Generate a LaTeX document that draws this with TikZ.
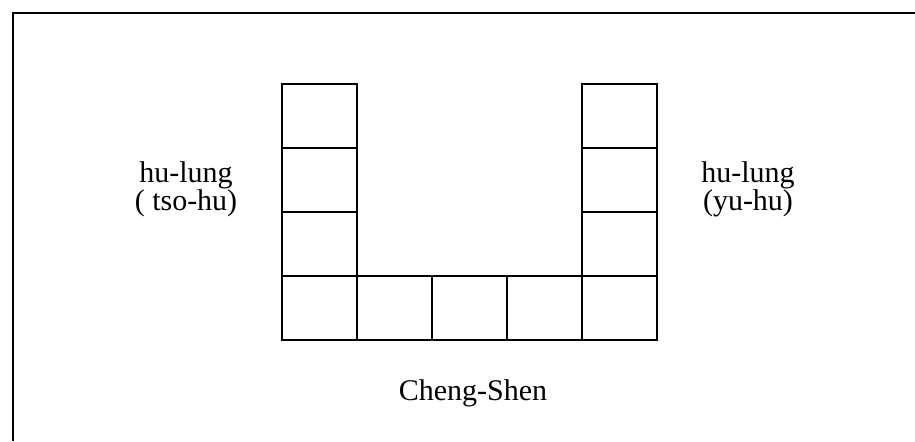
\documentclass[tikz,border=0pt]{standalone}
\usepackage{fontspec}
\setmainfont{Liberation Serif}
\usetikzlibrary{positioning}

\begin{document}
\begin{tikzpicture}[
    x=0.03cm, y=-0.03cm,
    cell/.style={draw, rectangle, line width=1.3pt, minimum width=2.25cm, minimum height=1.92cm, inner sep=0pt, outer sep=0pt},
    label/.style={align=center, inner sep=0pt, font=\fontsize{25.6}{23.9}\selectfont}
]
    \useasboundingbox (0,0) rectangle (915,441);

    % --- FRAME (left and top edges only) ---
    \draw[line width=1.3pt] (13,441) -- (13,13) -- (915,13);

    % --- LEFT COLUMN ---
    \foreach \i/\y in {1/116, 2/180, 3/244}
        \node[cell] (left\i) at (319.5,\y) {};

    % --- BOTTOM ROW ---
    \foreach \i/\x in {1/319.5, 2/394.5, 3/469.5, 4/544.5, 5/619.5}
        \node[cell] (base\i) at (\x,308) {};

    % --- RIGHT COLUMN ---
    \foreach \i/\y in {1/116, 2/180, 3/244}
        \node[cell] (right\i) at (619.5,\y) {};

    % --- LABELS ---
    \node[label] (tsohu) at (186,189) {hu-lung\\( tso-hu)};
    \node[label] (yuhu) at (748,189) {hu-lung\\(yu-hu)};
    \node[label] (chengshen) at (473,393) {Cheng-Shen};

\end{tikzpicture}
\end{document}
